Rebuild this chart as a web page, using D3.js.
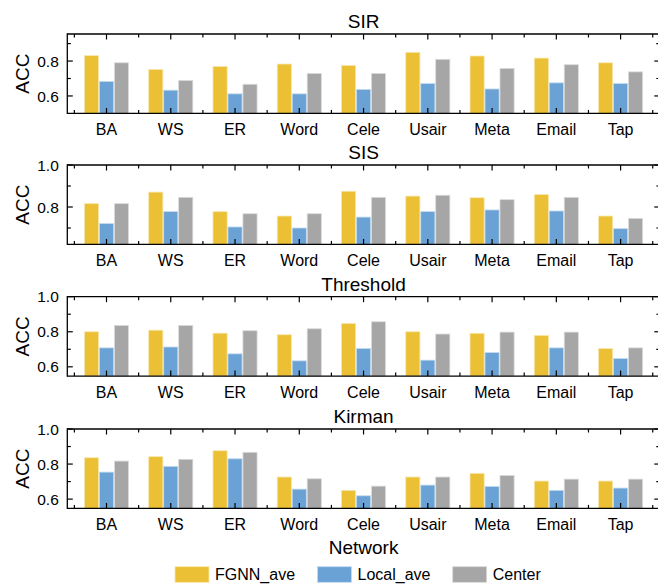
<!DOCTYPE html>
<html>
<head>
<meta charset="utf-8">
<script src="https://cdn.jsdelivr.net/npm/d3@7"></script>
<style>
  html, body { margin: 0; padding: 0; background: #fff; }
  svg { display: block; }
  text { font-family: "Liberation Sans", Arial, Helvetica, sans-serif; fill: #000; }
</style>
</head>
<body>
<svg id="chart" width="658" height="584"></svg>
<script>
// ---------------- DATA ----------------
const categories = ["BA", "WS", "ER", "Word", "Cele", "Usair", "Meta", "Email", "Tap"];
const seriesNames = ["FGNN_ave", "Local_ave", "Center"];
const seriesColors = ["#EBC034", "#6AA2D5", "#A6A6A6"];
const panelTitles = ["SIR", "SIS", "Threshold", "Kirman"];

const sirFGNN   = [0.831, 0.752, 0.769, 0.783, 0.775, 0.850, 0.829, 0.817, 0.790];
const sirLocal  = [0.683, 0.633, 0.612, 0.612, 0.637, 0.671, 0.640, 0.675, 0.671];
const sirCenter = [0.790, 0.689, 0.667, 0.729, 0.729, 0.810, 0.758, 0.779, 0.738];

const sisFGNN   = [0.816, 0.871, 0.778, 0.757, 0.875, 0.852, 0.844, 0.859, 0.757];
const sisLocal  = [0.721, 0.778, 0.705, 0.700, 0.752, 0.778, 0.786, 0.781, 0.697];
const sisCenter = [0.816, 0.846, 0.768, 0.768, 0.846, 0.856, 0.835, 0.846, 0.746];

const thrFGNN   = [0.800, 0.809, 0.792, 0.783, 0.847, 0.800, 0.791, 0.779, 0.704];
const thrLocal  = [0.708, 0.713, 0.674, 0.634, 0.704, 0.638, 0.681, 0.708, 0.647];
const thrCenter = [0.836, 0.836, 0.806, 0.817, 0.857, 0.787, 0.798, 0.798, 0.708];

const kirFGNN   = [0.836, 0.842, 0.876, 0.726, 0.650, 0.726, 0.747, 0.703, 0.703];
const kirLocal  = [0.754, 0.787, 0.830, 0.657, 0.619, 0.680, 0.672, 0.650, 0.663];
const kirCenter = [0.817, 0.827, 0.867, 0.716, 0.674, 0.726, 0.735, 0.714, 0.714];

const yDomains = [[0.5, 0.955], [0.622, 1.0], [0.547, 1.0], [0.547, 1.0]];
const yMajorTicks = [[0.6, 0.8], [0.8, 1.0], [0.6, 0.8, 1.0], [0.6, 0.8, 1.0]];
const yMinorTicks = [[0.7, 0.9], [0.7, 0.9], [0.7, 0.9], [0.7, 0.9]];

const panelData = [
  [sirFGNN, sirLocal, sirCenter],
  [sisFGNN, sisLocal, sisCenter],
  [thrFGNN, thrLocal, thrCenter],
  [kirFGNN, kirLocal, kirCenter]
];

// ---------------- LAYOUT ----------------
const svg = d3.select("#chart");
const left = 67.3, right = 659.8;
const panelTops = [34, 165, 296.7, 429];
const panelH = 79.4;
const barW = 0.22, barOff = 0.233;

const x = d3.scaleLinear().domain([-0.61, categories.length - 1 + 0.61]).range([left, right]);
const majorX = d3.range(categories.length);
const minorX = d3.range(categories.length + 1).map(d => d - 0.5);

function lighten(c, k) {
  const col = d3.color(c);
  return d3.interpolateRgb(col, "#ffffff")(k);
}

panelData.forEach((series, p) => {
  const top = panelTops[p], bottom = top + panelH;
  const y = d3.scaleLinear().domain(yDomains[p]).range([bottom, top]);
  const g = svg.append("g");

  // bars
  series.forEach((vals, s) => {
    g.selectAll(null).data(vals).enter().append("rect")
      .attr("x", (d, i) => x(i + (s - 1) * barOff - barW / 2))
      .attr("width", x(barW) - x(0))
      .attr("y", d => y(d))
      .attr("height", d => bottom - y(d))
      .attr("fill", seriesColors[s])
      .attr("stroke", lighten(seriesColors[s], 0.6))
      .attr("stroke-width", 0.8);
  });

  // frame
  const lw = 1.3;
  g.append("line").attr("x1", left).attr("x2", right).attr("y1", top).attr("y2", top)
    .attr("stroke", "#000").attr("stroke-width", lw);
  g.append("line").attr("x1", left).attr("x2", right).attr("y1", bottom).attr("y2", bottom)
    .attr("stroke", "#000").attr("stroke-width", lw);
  g.append("line").attr("x1", left).attr("x2", left).attr("y1", top - lw/2).attr("y2", bottom + lw/2)
    .attr("stroke", "#000").attr("stroke-width", lw);
  g.append("line").attr("x1", right).attr("x2", right).attr("y1", top).attr("y2", bottom)
    .attr("stroke", "#000").attr("stroke-width", lw);

  // x ticks (inward, top and bottom)
  const tickG = g.append("g").attr("stroke", "#000").attr("stroke-width", 1.2);
  majorX.forEach(v => {
    tickG.append("line").attr("x1", x(v)).attr("x2", x(v)).attr("y1", bottom).attr("y2", bottom - 5.5);
    tickG.append("line").attr("x1", x(v)).attr("x2", x(v)).attr("y1", top).attr("y2", top + 5.5);
  });
  minorX.forEach(v => {
    tickG.append("line").attr("x1", x(v)).attr("x2", x(v)).attr("y1", bottom).attr("y2", bottom - 3.5);
    tickG.append("line").attr("x1", x(v)).attr("x2", x(v)).attr("y1", top).attr("y2", top + 3.5);
  });
  // y ticks (inward, left and right)
  yMajorTicks[p].forEach(v => {
    tickG.append("line").attr("x1", left).attr("x2", left + 5.5).attr("y1", y(v)).attr("y2", y(v));
    tickG.append("line").attr("x1", right).attr("x2", right - 5.5).attr("y1", y(v)).attr("y2", y(v));
  });
  yMinorTicks[p].forEach(v => {
    tickG.append("line").attr("x1", left).attr("x2", left + 3.5).attr("y1", y(v)).attr("y2", y(v));
    tickG.append("line").attr("x1", right).attr("x2", right - 3.5).attr("y1", y(v)).attr("y2", y(v));
  });

  // y tick labels
  g.selectAll(null).data(yMajorTicks[p]).enter().append("text")
    .attr("x", left - 8.5).attr("y", d => y(d)).attr("dy", "0.36em")
    .attr("text-anchor", "end").attr("font-size", "15.5px")
    .text(d => d3.format(".1f")(d));

  // x tick labels
  g.selectAll(null).data(categories).enter().append("text")
    .attr("x", (d, i) => x(i)).attr("y", bottom + 21.5)
    .attr("text-anchor", "middle").attr("font-size", "16px")
    .text(d => d);

  // y label
  g.append("text")
    .attr("transform", `translate(28.5, ${(top + bottom) / 2}) rotate(-90)`)
    .attr("text-anchor", "middle").attr("font-size", "19px")
    .text("ACC");

  // title
  g.append("text")
    .attr("x", (left + right) / 2).attr("y", top - 5.7)
    .attr("text-anchor", "middle").attr("font-size", "19px")
    .text(panelTitles[p]);
});

// x label
svg.append("text")
  .attr("x", (left + right) / 2).attr("y", 554)
  .attr("text-anchor", "middle").attr("font-size", "19px")
  .text("Network");

// legend
const legendX = [175, 317.5, 452.7];
const legend = svg.append("g");
seriesNames.forEach((name, s) => {
  legend.append("rect")
    .attr("x", legendX[s]).attr("y", 566.7).attr("width", 34).attr("height", 15.6)
    .attr("fill", seriesColors[s])
    .attr("stroke", lighten(seriesColors[s], 0.6)).attr("stroke-width", 0.8);
  legend.append("text")
    .attr("x", legendX[s] + 40).attr("y", 580.3)
    .attr("font-size", "16px")
    .text(name);
});
</script>
</body>
</html>
